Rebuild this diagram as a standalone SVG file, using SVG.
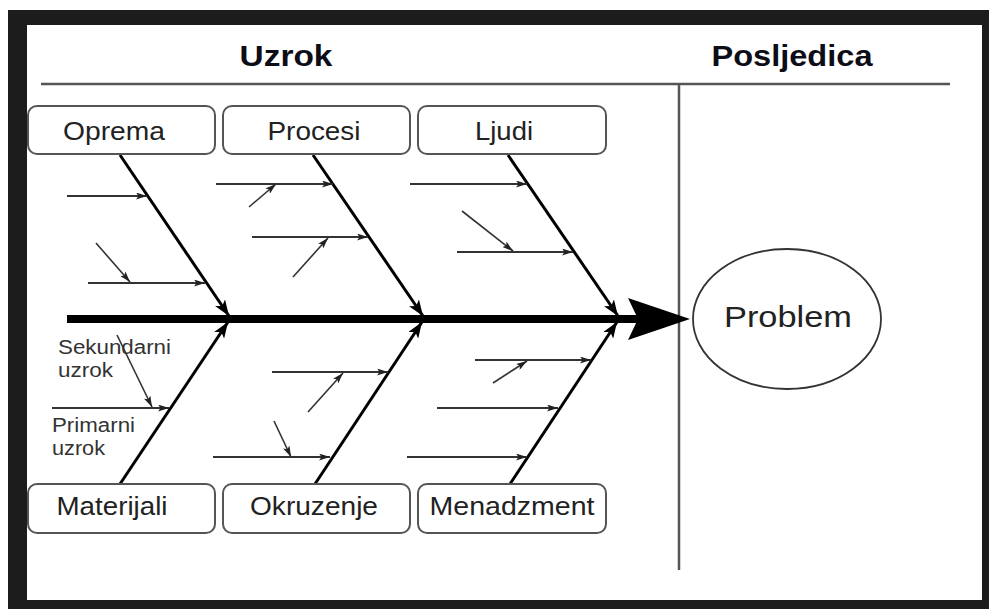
<svg xmlns="http://www.w3.org/2000/svg" width="989" height="609" viewBox="0 0 989 609">
<style>
.box{fill:#fff;stroke:#555;stroke-width:2}
.lbl{font-family:"Liberation Sans",Arial,sans-serif;font-size:25px;fill:#222;text-anchor:middle}
.small{font-family:"Liberation Sans",Arial,sans-serif;font-size:20px;fill:#333}
.hdr{font-family:"Liberation Sans",Arial,sans-serif;font-weight:bold;font-size:30px;fill:#0d0d18;text-anchor:middle}
.bone{stroke:#000;stroke-width:3;fill:none;marker-end:url(#big)}
.prim{stroke:#333;stroke-width:2;fill:none;marker-end:url(#small)}
.sec{stroke:#333;stroke-width:1.6;fill:none;marker-end:url(#small)}
.rule{stroke:#555;stroke-width:2.5;fill:none}
</style>
<defs>
<marker id="big" viewBox="0 0 16 12" refX="16" refY="6" markerWidth="16" markerHeight="12" orient="auto" markerUnits="userSpaceOnUse"><path d="M0,0 L16,6 L0,12 L4,6 z" fill="#000"/></marker>
<marker id="small" viewBox="0 0 11 7" refX="11" refY="3.5" markerWidth="11" markerHeight="7" orient="auto" markerUnits="userSpaceOnUse"><path d="M0,0 L11,3.5 L0,7 L2.5,3.5 z" fill="#222"/></marker>
</defs>
<rect x="0" y="0" width="989" height="609" fill="#fff"/>
<rect x="8" y="10" width="981" height="599" fill="#1c1c1c"/>
<rect x="27" y="25" width="955" height="575" fill="#fff"/>

<g id="headers">
<text class="hdr" x="286" y="66" textLength="93" lengthAdjust="spacingAndGlyphs">Uzrok</text>
<text class="hdr" x="792" y="66" textLength="161" lengthAdjust="spacingAndGlyphs">Posljedica</text>
<line class="rule" x1="41" y1="84" x2="950" y2="84"/>
<line class="rule" x1="679" y1="84" x2="679" y2="570"/>
</g>

<g id="connectors">
<line x1="67" y1="319" x2="640" y2="319" stroke="#000" stroke-width="8"/>
<path d="M628,298 L690,319 L628,340 L638,319 z" fill="#000"/>
<line class="bone" x1="120" y1="155" x2="229" y2="316"/>
<line class="bone" x1="313" y1="155" x2="423" y2="316"/>
<line class="bone" x1="508" y1="155" x2="618" y2="316"/>
<line class="bone" x1="120" y1="484" x2="228" y2="322"/>
<line class="bone" x1="315" y1="484" x2="422" y2="322"/>
<line class="bone" x1="510" y1="484" x2="617" y2="322"/>

<line class="prim" x1="67" y1="196" x2="147" y2="196"/>
<line class="prim" x1="88" y1="283" x2="205" y2="283"/>
<line class="sec" x1="96" y1="243" x2="130" y2="282"/>

<line class="prim" x1="216" y1="184" x2="333" y2="184"/>
<line class="sec" x1="249" y1="207" x2="276" y2="184"/>
<line class="prim" x1="252" y1="237" x2="368" y2="237"/>
<line class="sec" x1="293" y1="277" x2="328" y2="238"/>

<line class="prim" x1="410" y1="184" x2="527" y2="184"/>
<line class="prim" x1="457" y1="252" x2="573" y2="252"/>
<line class="sec" x1="462" y1="211" x2="513" y2="251"/>

<line class="prim" x1="52" y1="408" x2="169" y2="408"/>
<line class="sec" x1="117" y1="335" x2="152" y2="407"/>

<line class="prim" x1="272" y1="372" x2="388" y2="372"/>
<line class="sec" x1="308" y1="412" x2="343" y2="373"/>
<line class="prim" x1="213" y1="457" x2="330" y2="457"/>
<line class="sec" x1="274" y1="421" x2="291" y2="457"/>

<line class="prim" x1="475" y1="360" x2="591" y2="360"/>
<line class="sec" x1="493" y1="383" x2="527" y2="361"/>
<line class="prim" x1="437" y1="408" x2="558" y2="408"/>
<line class="prim" x1="407" y1="457" x2="527" y2="457"/>
</g>

<g id="annotations">
<text class="small" x="58" y="354" textLength="113" lengthAdjust="spacingAndGlyphs">Sekundarni</text>
<text class="small" x="58" y="377" textLength="55" lengthAdjust="spacingAndGlyphs">uzrok</text>
<text class="small" x="52" y="432" textLength="83" lengthAdjust="spacingAndGlyphs">Primarni</text>
<text class="small" x="52" y="455" textLength="53" lengthAdjust="spacingAndGlyphs">uzrok</text>
</g>

<g id="oprema"><rect class="box" x="28" y="106" width="187" height="48" rx="9"/><text class="lbl" x="114" y="140" textLength="102" lengthAdjust="spacingAndGlyphs">Oprema</text></g>
<g id="procesi"><rect class="box" x="223" y="106" width="187" height="48" rx="9"/><text class="lbl" x="314" y="140" textLength="93" lengthAdjust="spacingAndGlyphs">Procesi</text></g>
<g id="ljudi"><rect class="box" x="418" y="106" width="188" height="48" rx="9"/><text class="lbl" x="504" y="140" textLength="58" lengthAdjust="spacingAndGlyphs">Ljudi</text></g>
<g id="materijali"><rect class="box" x="28" y="484" width="187" height="49" rx="9"/><text class="lbl" x="112" y="515" textLength="111" lengthAdjust="spacingAndGlyphs">Materijali</text></g>
<g id="okruzenje"><rect class="box" x="223" y="484" width="187" height="49" rx="9"/><text class="lbl" x="314" y="515" textLength="128" lengthAdjust="spacingAndGlyphs">Okruzenje</text></g>
<g id="menadzment"><rect class="box" x="418" y="484" width="188" height="49" rx="9"/><text class="lbl" x="512" y="515" textLength="165" lengthAdjust="spacingAndGlyphs">Menadzment</text></g>
<g id="problem"><ellipse cx="787" cy="319" rx="94" ry="70" fill="#fff" stroke="#333" stroke-width="1.8"/><text class="lbl" x="788" y="327" style="font-size:30px" textLength="128" lengthAdjust="spacingAndGlyphs">Problem</text></g>
</svg>
